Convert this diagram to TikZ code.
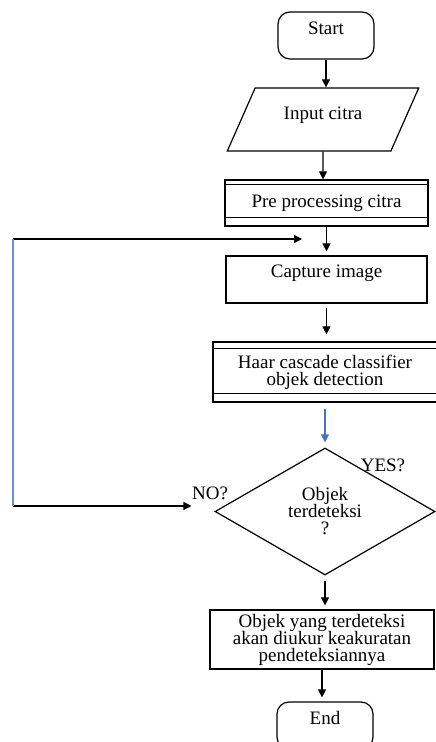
\documentclass[tikz,border=0pt]{standalone}
\usepackage{fontspec}
\setmainfont{Liberation Serif}
\usetikzlibrary{shapes.geometric,arrows.meta}
\definecolor{flowblue}{RGB}{68,114,196}
\newcommand\flowfont{\fontsize{9.5}{8.5}\selectfont\lineskiplimit=-20pt\relax}
\begin{document}
\begin{tikzpicture}[x=0.5pt,y=-0.5pt,line width=0.6pt,
    font=\flowfont,
    every node/.style={align=center,inner sep=0pt},
    terminal/.style={draw,rounded corners=6pt,minimum width=48pt,minimum height=23.5pt},
    process/.style={draw,minimum width=#1},
    io/.style={draw,trapezium,trapezium left angle=58,trapezium right angle=122,
      trapezium stretches=true,minimum width=96pt,minimum height=31.5pt},
    decision/.style={draw,diamond,aspect=1.7,minimum width=110pt,minimum height=63.5pt},
    flow/.style={-{Triangle[length=4pt,width=4pt]},shorten >=2pt},
    loopline/.style={draw=flowblue!80,line width=0.8pt}]
  \useasboundingbox (0,0) rectangle (435,742);
  \node[terminal,text depth=7.5pt] (start) at (326,35.5) {Start};
  \node[io,text depth=6.6pt] (input) at (323,119.5) {Input citra};
  \node[process=101.5pt,minimum height=23pt] (pre) at (326.5,203) {Pre processing citra};
  \node[process=100.5pt,minimum height=23.5pt,text depth=8.6pt] (capture) at (326.5,279.5) {Capture image};
  \node[process=112pt,minimum height=30pt] (haar) at (325,372) {Haar cascade classifier\\objek detection};
  \node[decision] (check) at (325,511.5) {Objek\\terdeteksi\\?};
  \node (yes) at (383,465) {YES?};
  \node (no) at (210,493) {NO?};
  \node[process=112pt,minimum height=29.5pt] (result) at (322,639.5) {Objek yang terdeteksi\\akan diukur keakuratan\\pendeteksiannya};
  \node[terminal,text depth=7.5pt] (end) at (325,725.5) {End};
  \coordinate (loopbottom) at (13,506);
  \coordinate (looptop) at (13,239);
  \coordinate (looptip) at (302,239);
  % double lines of the predefined process boxes
  \draw ([yshift=-2.5pt]pre.north west) -- ([yshift=-2.5pt]pre.north east);
  \draw ([yshift=4.5pt]pre.south west) -- ([yshift=4.5pt]pre.south east);
  \draw ([yshift=-3.5pt]haar.north west) -- ([yshift=-3.5pt]haar.north east);
  \draw ([yshift=4.5pt]haar.south west) -- ([yshift=4.5pt]haar.south east);
  \begin{scope}[flow]
    \draw[shorten >=0pt] (start) -- (start |- input.north);
    \draw[shorten >=0pt] (input) -- (input |- pre.north);
    \draw (pre) -- (pre |- capture.north);
    \draw[shorten <=2pt,shorten >=3.5pt] (capture) -- (capture |- haar.north);
    \draw[flowblue,shorten <=3pt,shorten >=2.5pt] (haar) -- (haar |- check.north);
    \draw[shorten <=2.5pt] (check) -- (check |- result.north);
    \draw (result) -- (result |- end.north);
    \draw[shorten >=0pt] (loopbottom) -- (loopbottom -| no.west);
    \draw[shorten >=0pt] (looptop) -- (looptip);
  \end{scope}
  \draw[loopline] (loopbottom) -- (looptop);
\end{tikzpicture}
\end{document}
